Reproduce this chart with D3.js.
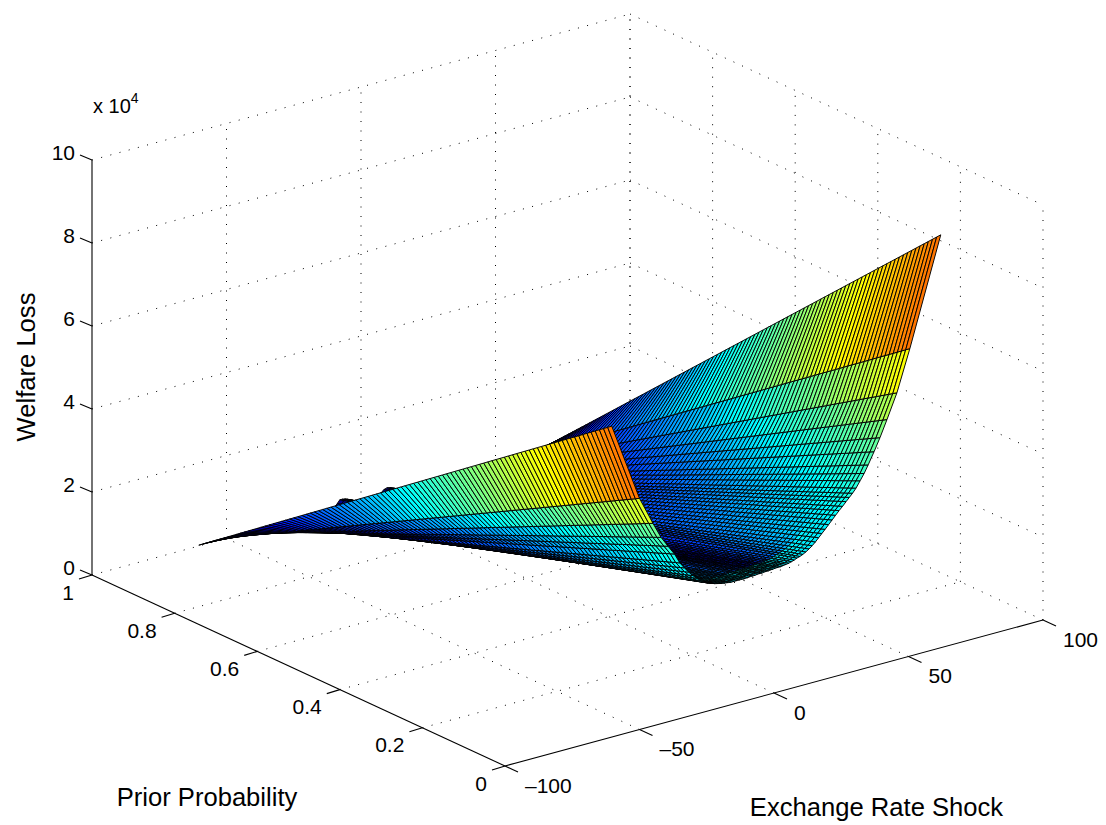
<!DOCTYPE html>
<html>
<head>
<meta charset="utf-8">
<title>Welfare Loss</title>
<script src="https://cdn.jsdelivr.net/npm/d3@7"></script>
<style>
  html, body { margin: 0; background: #fff; }
  text { font-family: "Liberation Sans", Arial, sans-serif; fill: #000; }
</style>
</head>
<body>
<div id="wrapper"></div>
<script>
// axis ticks
const SHOCK_TICKS = [-100, -50, 0, 50, 100];
const PROB_TICKS = [0, 0.2, 0.4, 0.6, 0.8, 1];
const LOSS_TICKS = [0, 2, 4, 6, 8, 10];
const SHOCK_LABELS = ["\u2013100", "\u201350", "0", "50", "100"];
const PROB_LABELS = ["0", "0.2", "0.4", "0.6", "0.8", "1"];

// mesh lines of the surface (thick lines are constant shock)
const shockGrid = [
  -60.3, -50, -45, -42, -39.4, -37, -35, -33.3, -31.7, -30.2, -28.7, -27.3, -25.9,
  -24.5, -23.2, -21.9, -20.6, -19.4, -18.2, -17, -15.9, -14.8, -13.7, -12.7, -11.7,
  -10.7, -9.7, -8.8, -7.9, -7, -6.1, -5.2, -4.4, -3.6, -2.8, -2, -1.2, -0.4,
  0.5, 1.5, 2.5, 3.5, 4.5, 5.5, 6.5, 7.5, 8.5, 9.6, 10.7, 11.8, 13, 14.2, 15.4,
  16.6, 17.8, 19, 20.3, 21.6, 22.9, 24.2, 25.5, 26.8, 28, 29.2, 30.5, 32, 33.5, 35,
  37.2, 39.4, 42, 45.7, 50.5, 62
];
const probGrid = [
  0, .01, .02, .03, .04, .05, .06, .07, .08, .09, .1, .11, .12, .13, .14, .15, .16,
  .17, .18, .19, .2, .21, .22, .23, .24, .25, .26, .27, .28, .29, .3, .31, .32, .33,
  .34, .35, .36, .37, .38, .39, .4, .41, .42, .43, .44, .45, .46, .47, .48, .49, .5,
  .51, .52, .53, .54, .55, .56, .57, .58, .59, .6, .61, .62, .63, .64, .65, .66, .67,
  .68, .69, .7, .71, .72, .73, .74, .75, .76, .77, .78, .79, .8, .81, .82, .83, .84,
  .85, .86, .87, .88, .89, .9, .91, .92, .93, .94, .95, .96, .97, .98, .99, 1
];
// loss (x 10^4) on the prior = 0 edge, one value per shockGrid entry
const lossAtProbZero = [
  7.49, 5.57, 4.88, 4.49, 4.23, 4.0, 3.75, 3.6, 3.47, 3.36, 3.27, 3.19, 3.13,
  3.08, 3.05, 3.02, 3.0, 2.98, 2.97, 2.96, 2.95, 2.95, 2.95, 2.95, 2.95,
  2.95, 2.95, 2.96, 2.96, 2.96, 2.97, 2.97, 2.97, 2.98, 2.98, 2.98, 2.99, 2.99,
  3.0, 3.0, 3.0, 3.01, 3.02, 3.03, 3.05, 3.07, 3.1, 3.12, 3.15, 3.19, 3.24, 3.3, 3.37,
  3.45, 3.53, 3.61, 3.7, 3.79, 3.88, 3.97, 4.05, 4.14, 4.22, 4.3, 4.4, 4.55, 4.7, 4.88,
  5.16, 5.46, 5.85, 6.43, 7.41, 9.95
];
// loss on the prior = 1 edge, almost flat apart from the two little bumps
const lossAtProbOne = [
  0.02, 0.02, 0.02, 0.02, 0.02, 0.02, 0.02, 0.02, 0.02, 0.02, 0.02, 0.02, 0.02,
  0.02, 0.02, 0.02, 0.02, 0.02, 0.02, 0.02, 0.02, 0.02, 0.02, 0.02, 0.02,
  0.02, 0.05, 0.12, 0.19, 0.19, 0.18, 0.16, 0.13, 0.1, 0.07, 0.05, 0.04, 0.03,
  0.02, 0.02, 0.02, 0.03, 0.03, 0.04, 0.05, 0.09, 0.15, 0.17, 0.16, 0.12, 0.08, 0.03, 0.02,
  0.02, 0.02, 0.02, 0.02, 0.02, 0.02, 0.02, 0.02, 0.02, 0.02, 0.02, 0.02, 0.02, 0.02, 0.02,
  0.02, 0.02, 0.02, 0.02, 0.02, 0.02
];
// position on the colormap at prior = 0, it fades to the blue end at prior = 1
const colorAtProbZero = [
  0.76, 0.59, 0.48, 0.44, 0.41, 0.39, 0.38, 0.37, 0.36, 0.36, 0.35, 0.35, 0.35,
  0.34, 0.34, 0.34, 0.34, 0.33, 0.33, 0.32, 0.31, 0.3, 0.29, 0.28, 0.27,
  0.26, 0.25, 0.24, 0.23, 0.22, 0.21, 0.2, 0.19, 0.18, 0.17, 0.16, 0.15, 0.15,
  0.15, 0.16, 0.18, 0.19, 0.2, 0.22, 0.23, 0.24, 0.25, 0.27, 0.28, 0.3, 0.31, 0.32, 0.33,
  0.34, 0.35, 0.35, 0.36, 0.36, 0.37, 0.38, 0.38, 0.39, 0.39, 0.4, 0.4, 0.41, 0.42, 0.43,
  0.45, 0.47, 0.5, 0.55, 0.62, 0.76
];
// the narrow teal strip along the front edge is brighter than the sheet behind it
const EDGE_STRIP_PROB = 0.05;
const EDGE_STRIP_COLOR = 0.36;

const dimensions = { width: 1106, height: 825 };

const wrapper = d3.select("#wrapper")
  .append("svg")
  .attr("width", dimensions.width)
  .attr("height", dimensions.height)
  .style("display", "block");

// the view is a fixed oblique projection, so each data axis gets one scale per
// screen direction. (505,766) is the corner shock=-100, prior=0, loss=0
const origin = { x: 505, y: 766 };
const shockToX = d3.scaleLinear().domain([-100, 100]).range([0, 538]);
const shockToY = d3.scaleLinear().domain([-100, 100]).range([0, -146]);
const probToX = d3.scaleLinear().domain([0, 1]).range([0, -413]);
const probToY = d3.scaleLinear().domain([0, 1]).range([0, -191]);
const lossToY = d3.scaleLinear().domain([0, 10]).range([0, -415]);

const project = (shock, prob, loss) => [
  origin.x + shockToX(shock) + probToX(prob),
  origin.y + shockToY(shock) + probToY(prob) + lossToY(loss)
];
// larger = further from the viewer, along the line of sight of the projection
const depth = (shock, prob, loss) => (shock + 100) / 200 + 1.303 * prob - 0.951 * loss / 10;

// matlab jet
const jet = d3.scaleLinear()
  .domain([0, 0.125, 0.375, 0.625, 0.875, 1])
  .range(["#000090", "#0000ff", "#00ffff", "#ffff00", "#ff0000", "#800000"])
  .clamp(true);

const line = d3.line();

// dotted grid on floor and the two back walls
const gridSegments = [];
SHOCK_TICKS.slice(1).forEach(s => {
  gridSegments.push([project(s, 0, 0), project(s, 1, 0)]);
  gridSegments.push([project(s, 1, 0), project(s, 1, 10)]);
});
PROB_TICKS.slice(1).forEach(p => {
  gridSegments.push([project(-100, p, 0), project(100, p, 0)]);
});
PROB_TICKS.forEach(p => {
  gridSegments.push([project(100, p, 0), project(100, p, 10)]);
});
LOSS_TICKS.slice(1).forEach(l => {
  gridSegments.push([project(-100, 1, l), project(100, 1, l)]);
  gridSegments.push([project(100, 1, l), project(100, 0, l)]);
});

wrapper.append("g")
  .selectAll("path")
  .data(gridSegments)
  .join("path")
  .attr("d", line)
  .attr("fill", "none")
  .attr("stroke", "#000")
  .attr("stroke-width", 1)
  .attr("stroke-dasharray", "1 8.5");

// axis lines and ticks
const axisSegments = [
  [project(-100, 1, 0), project(-100, 1, 10)],
  [project(-100, 1, 0), project(-100, 0, 0)],
  [project(-100, 0, 0), project(100, 0, 0)]
];
const offset = ([x, y], dx, dy) => [[x, y], [x + dx, y + dy]];
LOSS_TICKS.forEach(l => axisSegments.push(offset(project(-100, 1, l), -12, -5)));
PROB_TICKS.forEach(p => axisSegments.push(offset(project(-100, p, 0), -13, 4)));
SHOCK_TICKS.forEach(s => axisSegments.push(offset(project(s, 0, 0), 13, 6)));

wrapper.append("g")
  .selectAll("path")
  .data(axisSegments)
  .join("path")
  .attr("d", line)
  .attr("fill", "none")
  .attr("stroke", "#000")
  .attr("stroke-width", 1.1);

// surface cells. each constant-shock line is straight between its two edge values
const lossAt = (i, j) => {
  const p = probGrid[j];
  return (1 - p) * lossAtProbZero[i] + p * lossAtProbOne[i];
};
const cells = [];
for (let i = 0; i < shockGrid.length - 1; i++) {
  // flat colour comes from the outer corner of the cell
  const colorRow = Math.abs(shockGrid[i]) > Math.abs(shockGrid[i + 1]) ? i : i + 1;
  for (let j = 0; j < probGrid.length - 1; j++) {
    const corners = [[i, j], [i + 1, j], [i + 1, j + 1], [i, j + 1]];
    const sheetColor = colorAtProbZero[colorRow] * (1 - probGrid[j]);
    cells.push({
      path: corners.map(([a, b]) => project(shockGrid[a], probGrid[b], lossAt(a, b))),
      depth: d3.mean(corners, ([a, b]) => depth(shockGrid[a], probGrid[b], lossAt(a, b))),
      color: probGrid[j] < EDGE_STRIP_PROB ? Math.max(sheetColor, EDGE_STRIP_COLOR) : sheetColor
    });
  }
}
cells.sort((a, b) => d3.descending(a.depth, b.depth));

wrapper.append("g")
  .selectAll("path")
  .data(cells)
  .join("path")
  .attr("d", d => line(d.path) + "Z")
  .attr("fill", d => jet(d.color))
  .attr("stroke", "#000")
  .attr("stroke-width", 0.95)
  .attr("stroke-linejoin", "round");

// tick labels, matlab right-aligns the prior ones and left-aligns the shock ones
const labels = wrapper.append("g").style("font-size", "21px");

labels.selectAll(".loss")
  .data(LOSS_TICKS)
  .join("text")
  .attr("class", "loss")
  .attr("x", 75)
  .attr("y", d => project(-100, 1, d)[1] - 6)
  .attr("text-anchor", "end")
  .attr("dominant-baseline", "middle")
  .text(d => d);

labels.selectAll(".prob")
  .data(PROB_TICKS)
  .join("text")
  .attr("class", "prob")
  .attr("x", d => project(-100, d, 0)[0] - 18)
  .attr("y", d => project(-100, d, 0)[1] + 19)
  .attr("text-anchor", "end")
  .attr("dominant-baseline", "middle")
  .text((d, i) => PROB_LABELS[i]);

labels.selectAll(".shock")
  .data(SHOCK_TICKS)
  .join("text")
  .attr("class", "shock")
  .attr("x", d => project(d, 0, 0)[0] + 20)
  .attr("y", d => project(d, 0, 0)[1] + 21)
  .attr("text-anchor", "start")
  .attr("dominant-baseline", "middle")
  .text((d, i) => SHOCK_LABELS[i]);

// scale factor above the z axis
const factor = wrapper.append("text")
  .attr("x", 93)
  .attr("y", 113)
  .style("font-size", "20px");
factor.append("tspan").text("x 10");
factor.append("tspan").attr("dy", -10).style("font-size", "14px").text("4");

// axis titles
wrapper.append("text")
  .attr("transform", "translate(35,367) rotate(-90)")
  .attr("text-anchor", "middle")
  .style("font-size", "25.6px")
  .text("Welfare Loss");
wrapper.append("text")
  .attr("x", 207)
  .attr("y", 806)
  .attr("text-anchor", "middle")
  .style("font-size", "25.6px")
  .text("Prior Probability");
wrapper.append("text")
  .attr("x", 876.5)
  .attr("y", 816)
  .attr("text-anchor", "middle")
  .style("font-size", "25.6px")
  .text("Exchange Rate Shock");
</script>
</body>
</html>
